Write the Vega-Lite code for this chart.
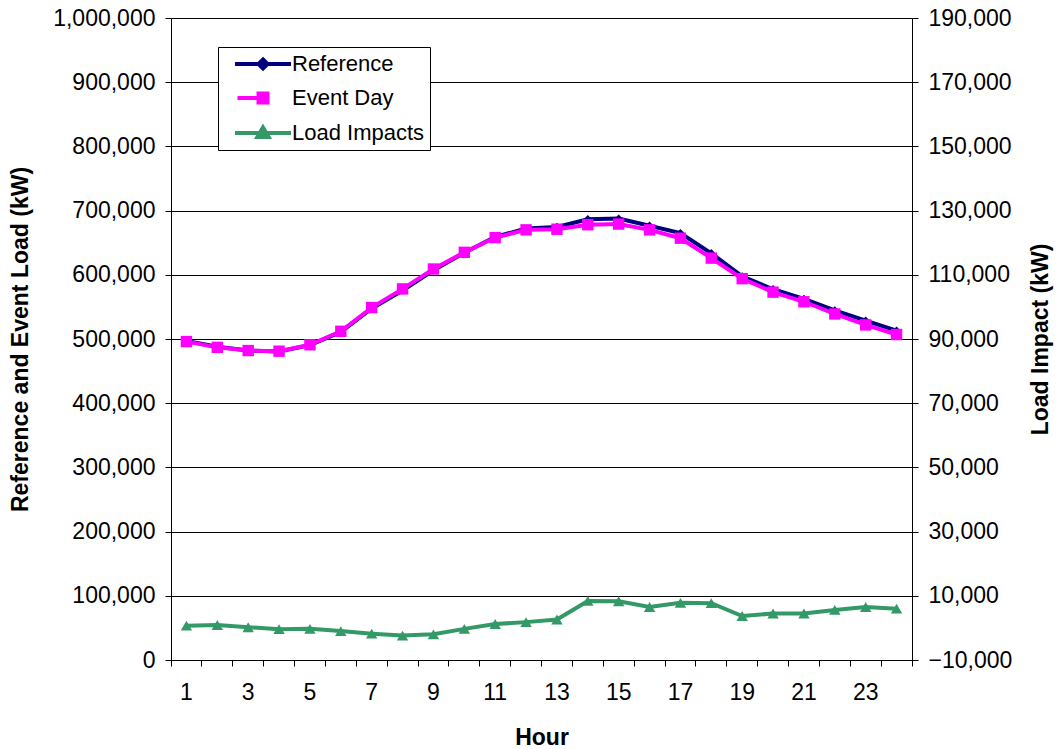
{
  "$schema": "https://vega.github.io/schema/vega-lite/v6.json",
  "width": 741,
  "height": 642,
  "autosize": {"type": "none"},
  "padding": {"left": 171, "top": 18, "right": 145, "bottom": 89},
  "background": "white",
  "config": {
    "view": {"stroke": null},
    "font": "Liberation Sans",
    "axis": {
      "labelFont": "Liberation Sans",
      "titleFont": "Liberation Sans",
      "labelFontSize": 23,
      "titleFontSize": 23,
      "titleFontWeight": "bold",
      "labelColor": "black",
      "titleColor": "black",
      "domainColor": "black",
      "tickColor": "black",
      "gridColor": "black",
      "gridOpacity": 1,
      "tickSize": 6
    }
  },
  "datasets": {
    "loads": [
      {"hour": 1, "series": "Reference", "value": 497000},
      {"hour": 2, "series": "Reference", "value": 488000},
      {"hour": 3, "series": "Reference", "value": 482000},
      {"hour": 4, "series": "Reference", "value": 480500},
      {"hour": 5, "series": "Reference", "value": 490500},
      {"hour": 6, "series": "Reference", "value": 511000},
      {"hour": 7, "series": "Reference", "value": 547500},
      {"hour": 8, "series": "Reference", "value": 575500},
      {"hour": 9, "series": "Reference", "value": 607000},
      {"hour": 10, "series": "Reference", "value": 634500},
      {"hour": 11, "series": "Reference", "value": 659000},
      {"hour": 12, "series": "Reference", "value": 672000},
      {"hour": 13, "series": "Reference", "value": 674500},
      {"hour": 14, "series": "Reference", "value": 686500},
      {"hour": 15, "series": "Reference", "value": 687500},
      {"hour": 16, "series": "Reference", "value": 676500},
      {"hour": 17, "series": "Reference", "value": 665000},
      {"hour": 18, "series": "Reference", "value": 633500},
      {"hour": 19, "series": "Reference", "value": 597500},
      {"hour": 20, "series": "Reference", "value": 577500},
      {"hour": 21, "series": "Reference", "value": 562500},
      {"hour": 22, "series": "Reference", "value": 544500},
      {"hour": 23, "series": "Reference", "value": 528500},
      {"hour": 24, "series": "Reference", "value": 513000},
      {"hour": 1, "series": "Event Day", "value": 496000},
      {"hour": 2, "series": "Event Day", "value": 487000},
      {"hour": 3, "series": "Event Day", "value": 482000},
      {"hour": 4, "series": "Event Day", "value": 481000},
      {"hour": 5, "series": "Event Day", "value": 491000},
      {"hour": 6, "series": "Event Day", "value": 512000},
      {"hour": 7, "series": "Event Day", "value": 549000},
      {"hour": 8, "series": "Event Day", "value": 578000},
      {"hour": 9, "series": "Event Day", "value": 609000},
      {"hour": 10, "series": "Event Day", "value": 635000},
      {"hour": 11, "series": "Event Day", "value": 658000},
      {"hour": 12, "series": "Event Day", "value": 670000},
      {"hour": 13, "series": "Event Day", "value": 671000},
      {"hour": 14, "series": "Event Day", "value": 678000},
      {"hour": 15, "series": "Event Day", "value": 679000},
      {"hour": 16, "series": "Event Day", "value": 670000},
      {"hour": 17, "series": "Event Day", "value": 657000},
      {"hour": 18, "series": "Event Day", "value": 626000},
      {"hour": 19, "series": "Event Day", "value": 594000},
      {"hour": 20, "series": "Event Day", "value": 573000},
      {"hour": 21, "series": "Event Day", "value": 558000},
      {"hour": 22, "series": "Event Day", "value": 539000},
      {"hour": 23, "series": "Event Day", "value": 522000},
      {"hour": 24, "series": "Event Day", "value": 507000}
    ],
    "impacts": [
      {"hour": 1, "series": "Load Impacts", "value": 700},
      {"hour": 2, "series": "Load Impacts", "value": 900},
      {"hour": 3, "series": "Load Impacts", "value": 200},
      {"hour": 4, "series": "Load Impacts", "value": -400},
      {"hour": 5, "series": "Load Impacts", "value": -300},
      {"hour": 6, "series": "Load Impacts", "value": -1000},
      {"hour": 7, "series": "Load Impacts", "value": -1800},
      {"hour": 8, "series": "Load Impacts", "value": -2400},
      {"hour": 9, "series": "Load Impacts", "value": -2000},
      {"hour": 10, "series": "Load Impacts", "value": -300},
      {"hour": 11, "series": "Load Impacts", "value": 1200},
      {"hour": 12, "series": "Load Impacts", "value": 1800},
      {"hour": 13, "series": "Load Impacts", "value": 2600},
      {"hour": 14, "series": "Load Impacts", "value": 8400},
      {"hour": 15, "series": "Load Impacts", "value": 8300},
      {"hour": 16, "series": "Load Impacts", "value": 6500},
      {"hour": 17, "series": "Load Impacts", "value": 7800},
      {"hour": 18, "series": "Load Impacts", "value": 7700},
      {"hour": 19, "series": "Load Impacts", "value": 3700},
      {"hour": 20, "series": "Load Impacts", "value": 4500},
      {"hour": 21, "series": "Load Impacts", "value": 4500},
      {"hour": 22, "series": "Load Impacts", "value": 5600},
      {"hour": 23, "series": "Load Impacts", "value": 6500},
      {"hour": 24, "series": "Load Impacts", "value": 6000}
    ]
  },
  "encoding": {
    "x": {
      "field": "hour",
      "type": "ordinal",
      "scale": {"type": "band", "paddingInner": 0, "paddingOuter": 0, "domain": [1,2,3,4,5,6,7,8,9,10,11,12,13,14,15,16,17,18,19,20,21,22,23,24]},
      "axis": {
        "title": "Hour",
        "labelAngle": 0,
        "labelExpr": "datum.value % 2 == 1 ? datum.label : ''",
        "bandPosition": 1,
        "tickExtra": true,
        "labelPadding": 15,
        "titleY": 77,
        "titleBaseline": "middle",
        "grid": false
      }
    },
    "color": {
      "field": "series",
      "type": "nominal",
      "scale": {"domain": ["Reference", "Event Day", "Load Impacts"], "range": ["#000080", "#FF00FF", "#339966"]},
      "legend": {
        "title": null,
        "orient": "none",
        "legendX": 47,
        "legendY": 29,
        "strokeColor": "black",
        "fillColor": "white",
        "padding": 5,
        "labelFont": "Liberation Sans",
        "labelFontSize": 22,
        "labelColor": "black",
        "symbolSize": 400,
        "symbolStrokeWidth": 4,
        "symbolOffset": 28,
        "rowPadding": 8,
        "labelOffset": 17,
        "encode": {
          "symbols": {
            "update": {
              "shape": {"signal": "datum.value === 'Reference' ? 'M-2.8,0H2.8M0,-0.45L0.45,0L0,0.45L-0.45,0Z' : datum.value === 'Event Day' ? 'M-2.55,0H0.65M-0.45,-0.45H0.45V0.45H-0.45Z' : 'M-2.8,0H2.8M0,-0.56L0.56,0.4H-0.56Z'"},
              "fill": {"scale": "color", "field": "value"},
              "stroke": {"scale": "color", "field": "value"},
              "strokeWidth": {"value": 4},
              "opacity": {"value": 1},
              "fillOpacity": {"value": 1}
            }
          }
        }
      }
    }
  },
  "layer": [
    {
      "data": {"name": "loads"},
      "encoding": {
        "y": {
          "field": "value",
          "type": "quantitative",
          "scale": {"domain": [0, 1000000], "nice": false, "zero": false},
          "axis": {
            "orient": "left",
            "title": "Reference and Event Load (kW)",
            "values": [0, 100000, 200000, 300000, 400000, 500000, 600000, 700000, 800000, 900000, 1000000],
            "format": ",d",
            "grid": true,
            "labelPadding": 10,
            "titleAngle": -90,
            "titleX": -151,
            "titleY": 321,
            "titleAlign": "center",
            "titleBaseline": "middle"
          }
        }
      },
      "layer": [
        {"mark": {"type": "line", "strokeWidth": 4}, "encoding": {}},
        {
          "mark": {"type": "point", "filled": true, "opacity": 1},
          "encoding": {
            "shape": {"field": "series", "type": "nominal", "scale": {"domain": ["Reference", "Event Day"], "range": ["diamond", "square"]}, "legend": null},
            "size": {"field": "series", "type": "nominal", "scale": {"domain": ["Reference", "Event Day"], "range": [70, 130]}, "legend": null}
          }
        }
      ]
    },
    {
      "data": {"name": "impacts"},
      "encoding": {
        "y": {
          "field": "value",
          "type": "quantitative",
          "scale": {"domain": [-10000, 190000], "nice": false, "zero": false},
          "axis": {
            "orient": "right",
            "title": "Load Impact (kW)",
            "values": [-10000, 10000, 30000, 50000, 70000, 90000, 110000, 130000, 150000, 170000, 190000],
            "format": ",d",
            "grid": false,
            "labelPadding": 10,
            "titleAngle": -90,
            "titleX": 128,
            "titleY": 321,
            "titleAlign": "center",
            "titleBaseline": "middle"
          }
        }
      },
      "layer": [
        {"mark": {"type": "line", "strokeWidth": 4}, "encoding": {}},
        {"mark": {"type": "point", "filled": true, "opacity": 1, "shape": "triangle-up", "size": 130}, "encoding": {}}
      ]
    }
  ],
  "resolve": {"scale": {"y": "independent"}, "axis": {"y": "independent"}}
}
